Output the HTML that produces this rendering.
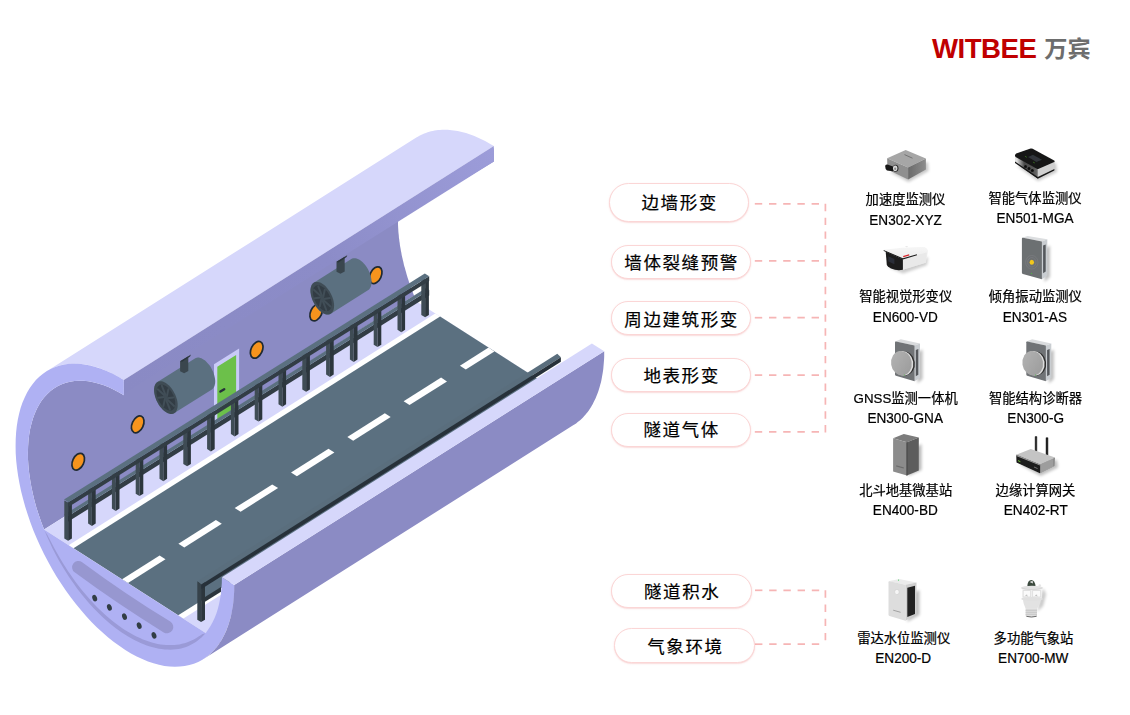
<!DOCTYPE html>
<html lang="zh-CN"><head><meta charset="utf-8"><title>WITBEE 万宾 隧道监测</title>
<style>
html,body{margin:0;padding:0;background:#fff}
body{width:1130px;height:715px;position:relative;overflow:hidden;font-family:"Liberation Sans","Noto Sans CJK SC",sans-serif;color:#000}
svg.bg{position:absolute;left:0;top:0}
.logo{position:absolute;left:932px;top:32.4px;height:34px;line-height:34px;white-space:nowrap}
.logo b{color:#c00000;font-size:27.6px;font-weight:700;letter-spacing:-0.5px;font-family:"Liberation Sans",sans-serif}
.logo span{color:#6d6d6d;font-size:23.2px;font-weight:700;margin-left:8.0px;font-family:"Liberation Sans","Noto Sans CJK SC",sans-serif;position:relative;top:-1.0px}
.pill{position:absolute;box-sizing:border-box;border:1.8px solid #fbd6d6;border-radius:20px;background:#fff;box-shadow:0 .8px 1.5px rgba(238,150,150,.42);text-align:center;font-size:17.5px;letter-spacing:1.6px;text-indent:1.6px;font-family:"Liberation Sans","Noto Sans CJK SC",sans-serif;font-weight:400;white-space:nowrap;-webkit-text-stroke:.2px #000}
.dev{position:absolute;width:140px;text-align:center;white-space:nowrap;-webkit-text-stroke:.22px #000}
.dev .n{font-size:13.3px;line-height:20px;height:20px;font-family:"Liberation Sans","Noto Sans CJK SC",sans-serif}
.dev .m{font-size:15.2px;line-height:20px;height:20px;font-family:"Liberation Sans",sans-serif}
.dev .m span{display:inline-block;transform:scaleX(.895);position:relative;top:-.6px}
</style></head><body>
<svg class="bg" width="1130" height="715" viewBox="0 0 1130 715">
<defs>
<linearGradient id="gStrip" gradientUnits="userSpaceOnUse" x1="495" y1="155" x2="125" y2="388">
<stop offset="0" stop-color="#9c9cd9"/><stop offset="0.45" stop-color="#8c8cc8"/><stop offset="1" stop-color="#8a8ac4"/></linearGradient>
<linearGradient id="gWall" gradientUnits="userSpaceOnUse" x1="0" y1="380" x2="0" y2="560">
<stop offset="0" stop-color="#8b8bc4"/><stop offset="1" stop-color="#8b8bc4"/></linearGradient>
</defs>
<g id="tunnel">
<path d="M46.3 371.4 L47.8 370.5 L49.4 369.6 L51.0 368.8 L52.6 368.1 L54.2 367.4 L55.9 366.7 L57.6 366.2 L59.3 365.6 L61.0 365.2 L62.8 364.8 L64.6 364.4 L66.4 364.2 L68.2 363.9 L70.1 363.8 L72.0 363.7 L73.9 363.6 L75.8 363.6 L77.7 363.7 L79.7 363.8 L81.7 364.0 L83.7 364.3 L85.7 364.6 L87.7 364.9 L89.8 365.4 L91.8 365.8 L93.9 366.4 L96.0 367.0 L98.1 367.6 L100.2 368.4 L102.3 369.1 L104.4 370.0 L106.5 370.9 L108.7 371.8 L110.8 372.8 L113.0 373.9 L115.1 375.0 L117.3 376.1 L119.4 377.4 L121.6 378.6 L123.8 380.0 L493.8 146.1 L491.6 144.8 L489.4 143.5 L487.3 142.3 L485.1 141.1 L483.0 140.0 L480.8 139.0 L478.7 138.0 L476.5 137.0 L474.4 136.1 L472.3 135.3 L470.2 134.5 L468.1 133.8 L466.0 133.1 L463.9 132.5 L461.8 132.0 L459.8 131.5 L457.7 131.1 L455.7 130.7 L453.7 130.4 L451.7 130.2 L449.7 130.0 L447.7 129.8 L445.8 129.8 L443.9 129.8 L442.0 129.8 L440.1 129.9 L438.2 130.1 L436.4 130.3 L434.6 130.6 L432.8 130.9 L431.0 131.3 L429.3 131.8 L427.6 132.3 L425.9 132.9 L424.2 133.5 L422.6 134.2 L421.0 135.0 L419.4 135.8 L417.8 136.7 L416.3 137.6Z" fill="#d6d7fb" />
<path d="M123.8 382.0 L123.9 395.3 L118.7 392.2 L113.5 389.4 L108.4 387.1 L103.2 385.1 L98.2 383.4 L93.2 382.2 L88.4 381.3 L83.6 380.8 L79.0 380.7 L74.4 381.0 L70.1 381.7 L65.9 382.8 L61.8 384.2 L58.0 386.1 L54.3 388.2 L50.8 390.8 L47.6 393.7 L44.5 397.0 L41.7 400.6 L39.2 404.5 L36.9 408.8 L34.8 413.4 L33.0 418.2 L31.5 423.4 L30.2 428.8 L29.2 434.4 L28.5 440.3 L28.1 446.4 L27.9 452.7 L28.0 459.2 L28.4 465.8 L29.1 472.6 L30.1 479.5 L31.3 486.5 L32.8 493.6 L34.5 500.7 L36.5 507.9 L38.8 515.1 L41.3 522.3 L44.1 529.5 L414.1 295.7 L413.3 293.7 L412.6 291.8 L411.8 289.8 L411.1 287.8 L410.4 285.9 L409.7 283.9 L409.0 281.9 L408.4 279.9 L407.7 278.0 L407.1 276.0 L406.5 274.0 L406.0 272.1 L405.4 270.1 L404.9 268.1 L404.3 266.2 L403.8 264.2 L403.4 262.3 L402.9 260.3 L402.5 258.4 L402.0 256.4 L401.6 254.5 L401.3 252.6 L400.9 250.7 L400.6 248.7 L400.2 246.8 L399.9 244.9 L399.7 243.0 L399.4 241.2 L399.2 239.3 L398.9 237.4 L398.8 235.6 L398.6 233.7 L398.4 231.9 L398.3 230.0 L398.2 228.2 L398.1 226.4 L398.0 224.6 L398.0 222.8 L397.9 221.1 L397.9 219.3 L493.9 161.4 L493.8 148.1Z" fill="url(#gWall)" />
<path d="M123.8 380.0 L493.8 146.1 L493.9 161.4 L123.9 394.1Z" fill="url(#gStrip)" />
<path d="M44.1 529.5 L205.7 632.9 L572.3 401.2 L410.7 297.8Z" fill="#d6d7fb" />
<path d="M68.6 545.2 L183.4 618.6 L550.0 386.9 L435.2 313.5Z" fill="#ffffff" />
<path d="M73.5 548.3 L178.2 615.3 L544.8 383.6 L440.1 316.6Z" fill="#5b7080" />
<path d="M459.9 365.7 L465.8 369.5 L494.4 351.4 L488.6 347.6Z" fill="#ffffff" />
<path d="M403.6 401.3 L409.5 405.1 L447.0 381.4 L441.1 377.6Z" fill="#ffffff" />
<path d="M347.3 436.9 L353.2 440.7 L390.7 417.0 L384.8 413.2Z" fill="#ffffff" />
<path d="M291.0 472.5 L296.9 476.2 L334.4 452.5 L328.5 448.8Z" fill="#ffffff" />
<path d="M234.7 508.1 L240.6 511.8 L278.1 488.1 L272.2 484.4Z" fill="#ffffff" />
<path d="M178.4 543.7 L184.3 547.4 L221.8 523.7 L215.9 520.0Z" fill="#ffffff" />
<path d="M122.1 579.2 L128.0 583.0 L165.5 559.3 L159.6 555.5Z" fill="#ffffff" />
<path d="M123.8 380.0 L118.0 376.6 L112.4 373.6 L106.7 370.9 L101.1 368.7 L95.6 366.9 L90.1 365.4 L84.7 364.4 L79.5 363.8 L74.3 363.6 L69.3 363.8 L64.5 364.4 L59.8 365.5 L55.3 366.9 L51.0 368.8 L46.9 371.0 L43.0 373.7 L39.3 376.7 L35.9 380.1 L32.7 383.9 L29.8 388.0 L27.1 392.5 L24.7 397.4 L22.5 402.5 L20.6 407.9 L19.1 413.7 L17.8 419.7 L16.8 426.0 L16.1 432.5 L15.7 439.2 L15.6 446.2 L15.7 453.3 L16.2 460.7 L17.0 468.1 L18.1 475.7 L19.5 483.4 L21.1 491.2 L23.1 499.0 L25.3 506.9 L27.8 514.8 L30.5 522.8 L33.5 530.7 L36.8 538.5 L40.3 546.3 L44.0 554.0 L48.0 561.6 L52.1 569.1 L56.5 576.4 L61.1 583.6 L65.8 590.5 L70.7 597.3 L75.7 603.8 L80.9 610.1 L86.2 616.2 L91.5 622.0 L97.0 627.4 L102.6 632.6 L108.2 637.4 L113.9 642.0 L119.6 646.1 L125.3 649.9 L131.0 653.4 L136.7 656.5 L142.3 659.1 L148.0 661.4 L153.5 663.3 L159.0 664.8 L164.4 665.9 L169.6 666.5 L174.8 666.8 L179.8 666.6 L184.7 666.1 L189.4 665.1 L193.9 663.7 L198.2 661.9 L202.4 659.7 L206.3 657.1 L210.0 654.1 L213.5 650.7 L216.7 647.0 L219.7 642.9 L222.4 638.5 L224.8 633.7 L227.0 628.6 L228.9 623.2 L230.5 617.5 L231.9 611.5 L232.9 605.3 L233.7 598.8 L234.1 592.1 L234.2 585.1 L221.9 577.2 L221.8 583.0 L221.4 588.6 L220.9 594.0 L220.0 599.2 L219.0 604.2 L217.8 609.1 L216.3 613.7 L214.6 618.0 L212.7 622.1 L210.5 626.0 L208.2 629.6 L205.7 632.9 L44.1 529.5 L44.1 529.5 L41.3 522.3 L38.8 515.1 L36.5 507.9 L34.5 500.7 L32.8 493.6 L31.3 486.5 L30.1 479.5 L29.1 472.6 L28.4 465.8 L28.0 459.2 L27.9 452.7 L28.1 446.4 L28.5 440.3 L29.2 434.4 L30.2 428.8 L31.5 423.4 L33.0 418.2 L34.8 413.4 L36.9 408.8 L39.2 404.5 L41.7 400.6 L44.5 397.0 L47.6 393.7 L50.8 390.8 L54.3 388.2 L58.0 386.1 L61.8 384.2 L65.9 382.8 L70.1 381.7 L74.4 381.0 L79.0 380.7 L83.6 380.8 L88.4 381.3 L93.2 382.2 L98.2 383.4 L103.2 385.1 L108.4 387.1 L113.5 389.4 L118.7 392.2 L123.9 395.3Z" fill="#afb1f3" />
<path d="M44.6 530.7 L46.4 535.0 L48.3 539.3 L50.3 543.6 L52.3 547.9 L54.4 552.1 L56.6 556.3 L58.9 560.4 L61.3 564.5 L63.7 568.6 L66.2 572.6 L68.7 576.5 L71.3 580.3 L74.0 584.1 L76.7 587.9 L79.4 591.5 L82.2 595.1 L85.1 598.5 L88.0 601.9 L90.9 605.2 L93.9 608.4 L96.9 611.5 L99.9 614.5 L103.0 617.4 L106.1 620.2 L109.2 622.9 L112.3 625.4 L115.5 627.9 L118.6 630.2 L121.7 632.4 L124.9 634.5 L128.1 636.5 L131.2 638.3 L134.3 640.0 L137.5 641.5 L140.6 643.0 L143.7 644.3 L146.8 645.4 L149.9 646.4 L152.9 647.3 L155.9 648.1 L158.9 648.7 L161.8 649.1 L164.7 649.4 L167.6 649.6 L170.4 649.7 L173.1 649.6 L175.8 649.3 L178.5 648.9 L181.1 648.4 L183.6 647.7 L186.1 646.9 L188.5 645.9 L190.9 644.8 L193.2 643.6 L195.4 642.2 L197.5 640.7 L199.5 639.1 L201.5 637.4 L203.4 635.5 L205.2 633.4 L205.2 633.4 L202.5 634.0 L200.3 635.4 L198.2 636.8 L196.0 638.2 L193.8 639.4 L191.5 640.5 L189.2 641.5 L186.8 642.4 L184.4 643.2 L181.9 643.8 L179.4 644.4 L176.8 644.7 L174.2 645.0 L171.5 645.1 L168.8 645.1 L166.1 645.0 L163.3 644.8 L160.5 644.4 L157.6 643.9 L154.8 643.2 L151.9 642.5 L148.9 641.6 L146.0 640.5 L143.0 639.4 L140.0 638.1 L137.0 636.7 L134.0 635.2 L131.0 633.5 L127.9 631.8 L124.9 629.9 L121.9 627.9 L118.8 625.8 L115.8 623.6 L112.8 621.2 L109.8 618.8 L106.8 616.2 L103.8 613.6 L100.9 610.8 L97.9 608.0 L95.0 605.0 L92.2 602.0 L89.3 598.8 L86.5 595.6 L83.7 592.3 L81.0 588.9 L78.3 585.5 L75.6 581.9 L73.0 578.3 L70.4 574.6 L67.9 570.9 L65.4 567.1 L63.0 563.2 L60.6 559.3 L58.3 555.3 L56.0 551.3 L53.8 547.2 L51.6 543.1 L49.5 539.0 L47.3 534.8 L44.6 530.7Z" fill="#9a9ad7" />
<path d="M78.4 567.3 Q121.5 599.2 167.0 627.0" fill="none" stroke="#9797d0" stroke-width="12.6" stroke-linecap="round"/>
<ellipse cx="94.7" cy="598.1" rx="2.3" ry="3.4" fill="#323d45" transform="rotate(-20 94.7 598.1)"/>
<ellipse cx="109.4" cy="607.4" rx="2.3" ry="3.4" fill="#323d45" transform="rotate(-20 109.4 607.4)"/>
<ellipse cx="124.5" cy="616.6" rx="2.3" ry="3.4" fill="#323d45" transform="rotate(-20 124.5 616.6)"/>
<ellipse cx="139.2" cy="625.6" rx="2.3" ry="3.4" fill="#323d45" transform="rotate(-20 139.2 625.6)"/>
<ellipse cx="154.0" cy="635.4" rx="2.3" ry="3.4" fill="#323d45" transform="rotate(-20 154.0 635.4)"/>
<path d="M234.2 585.1 L234.2 587.7 L234.2 590.3 L234.1 592.8 L233.9 595.3 L233.7 597.7 L233.5 600.2 L233.3 602.5 L233.0 604.9 L232.6 607.2 L232.2 609.5 L231.8 611.8 L231.4 614.0 L230.9 616.2 L230.3 618.4 L229.7 620.5 L229.1 622.6 L228.5 624.6 L227.8 626.6 L227.0 628.6 L226.3 630.5 L225.5 632.3 L224.6 634.2 L223.7 636.0 L222.8 637.7 L221.9 639.4 L220.9 641.0 L219.9 642.6 L218.8 644.2 L217.7 645.7 L216.6 647.2 L215.4 648.6 L214.2 649.9 L213.0 651.2 L211.7 652.5 L210.4 653.7 L209.1 654.9 L207.7 656.0 L206.4 657.0 L204.9 658.0 L203.5 659.0 L573.5 425.1 L574.9 424.2 L576.4 423.2 L577.7 422.1 L579.1 421.0 L580.4 419.9 L581.7 418.7 L583.0 417.4 L584.2 416.1 L585.4 414.7 L586.6 413.3 L587.7 411.9 L588.8 410.4 L589.9 408.8 L590.9 407.2 L591.9 405.5 L592.8 403.9 L593.7 402.1 L594.6 400.3 L595.5 398.5 L596.3 396.6 L597.0 394.7 L597.8 392.8 L598.5 390.8 L599.1 388.7 L599.7 386.7 L600.3 384.5 L600.9 382.4 L601.4 380.2 L601.8 378.0 L602.2 375.7 L602.6 373.4 L603.0 371.1 L603.3 368.7 L603.5 366.3 L603.7 363.9 L603.9 361.4 L604.1 358.9 L604.2 356.4 L604.2 353.9 L604.2 351.3Z" fill="#8b8bc4" />
<path d="M221.9 577.2 L234.2 585.1 L604.2 351.3 L591.9 343.4Z" fill="#d6d7fb" />
<path d="M197.3 581.2 L201.1 583.4 L201.1 622.0 L197.3 619.8Z" fill="#36424a" />
<path d="M201.1 583.4 L205.0 581.2 L205.0 619.8 L201.1 622.0Z" fill="#2c363d" />
<path d="M205.0 597.0 L221.0 587.0 L221.0 591.8 L205.0 601.8Z" fill="#2c363d" />
<path d="M197.8 581.0 L557.3 353.8 L560.9 357.2 L201.4 584.4Z" fill="#5a6e7d" />
<path d="M201.4 584.4 L560.9 357.2 L560.9 361.8 L201.4 589.0Z" fill="#27313a" />
<ellipse cx="78.2" cy="461.7" rx="5.6" ry="8.9" fill="#f7941d" stroke="#1f2a33" stroke-width="1.7" transform="rotate(25 78.2 461.7)"/>
<ellipse cx="137.7" cy="424.4" rx="5.6" ry="8.9" fill="#f7941d" stroke="#1f2a33" stroke-width="1.7" transform="rotate(25 137.7 424.4)"/>
<ellipse cx="256.7" cy="349.8" rx="5.6" ry="8.9" fill="#f7941d" stroke="#1f2a33" stroke-width="1.7" transform="rotate(25 256.7 349.8)"/>
<ellipse cx="316.2" cy="312.5" rx="5.6" ry="8.9" fill="#f7941d" stroke="#1f2a33" stroke-width="1.7" transform="rotate(25 316.2 312.5)"/>
<ellipse cx="375.7" cy="275.2" rx="5.6" ry="8.9" fill="#f7941d" stroke="#1f2a33" stroke-width="1.7" transform="rotate(25 375.7 275.2)"/>
<path d="M214.0 364.3 L239.1 348.5 L239.1 405.0 L214.0 421.0Z" fill="#c9caf8" />
<path d="M217.3 366.8 L236.1 355.0 L236.1 407.5 L217.3 419.5Z" fill="#6cc04a" />
<path d="M220.4 391.6 L224.2 389.2" stroke="#27313a" stroke-width="2.4" stroke-linecap="round"/>
<path d="M157.4 382.1 L156.6 382.7 L155.9 383.5 L155.3 384.5 L154.8 385.5 L154.5 386.8 L154.2 388.1 L154.1 389.5 L154.1 391.1 L154.3 392.7 L154.6 394.3 L155.0 396.0 L155.5 397.7 L156.1 399.4 L156.9 401.1 L157.7 402.8 L158.6 404.4 L159.6 405.9 L160.7 407.3 L161.9 408.6 L163.0 409.8 L164.2 410.9 L165.5 411.8 L166.7 412.6 L167.9 413.2 L169.1 413.6 L170.3 413.9 L171.4 413.9 L172.5 413.8 L173.5 413.6 L174.4 413.1 L211.9 389.4 L212.7 388.8 L213.4 388.0 L214.0 387.0 L214.5 386.0 L214.8 384.7 L215.1 383.4 L215.2 382.0 L215.2 380.4 L215.0 378.8 L214.7 377.2 L214.3 375.5 L213.8 373.8 L213.2 372.1 L212.4 370.4 L211.6 368.7 L210.7 367.1 L209.7 365.6 L208.6 364.2 L207.4 362.9 L206.3 361.7 L205.1 360.6 L203.8 359.7 L202.6 358.9 L201.4 358.3 L200.2 357.9 L199.0 357.6 L197.9 357.6 L196.8 357.7 L195.8 357.9 L194.9 358.4Z" fill="#5b7080" />
<path d="M180.1 361.2 L188.3 356.2 L188.3 370.9 L184.1 373.2 L180.1 371.2Z" fill="#3a464e" />
<path d="M180.1 361.2 L188.3 356.2 L190.9 354.6 L190.1 356.4 L182.1 361.8Z" fill="#2b353c" />
<path d="M177.7 405.1 L177.6 403.2 L177.3 401.1 L176.8 399.0 L176.1 396.9 L175.3 394.8 L174.2 392.7 L173.1 390.7 L171.8 388.8 L170.4 387.1 L169.0 385.5 L167.4 384.2 L165.9 383.1 L164.4 382.2 L162.8 381.6 L161.4 381.3 L160.0 381.3 L158.7 381.5 L157.6 382.0 L156.5 382.8 L155.7 383.8 L155.0 385.1 L154.5 386.6 L154.2 388.2 L154.1 390.1 L154.2 392.0 L154.5 394.1 L155.0 396.2 L155.7 398.3 L156.5 400.4 L157.6 402.5 L158.7 404.5 L160.0 406.4 L161.4 408.1 L162.8 409.7 L164.4 411.0 L165.9 412.1 L167.4 413.0 L169.0 413.6 L170.4 413.9 L171.8 413.9 L173.1 413.7 L174.2 413.2 L175.3 412.4 L176.1 411.4 L176.8 410.1 L177.3 408.6 L177.6 407.0Z" fill="#3f4c55" />
<path d="M175.2 403.6 L175.2 402.0 L174.9 400.4 L174.5 398.7 L174.0 397.0 L173.3 395.3 L172.5 393.7 L171.6 392.1 L170.6 390.6 L169.5 389.3 L168.3 388.0 L167.1 387.0 L165.9 386.1 L164.7 385.4 L163.5 384.9 L162.3 384.7 L161.2 384.7 L160.2 384.8 L159.3 385.2 L158.5 385.9 L157.8 386.7 L157.3 387.7 L156.9 388.8 L156.6 390.2 L156.6 391.6 L156.6 393.2 L156.9 394.8 L157.3 396.5 L157.8 398.2 L158.5 399.9 L159.3 401.5 L160.2 403.1 L161.2 404.6 L162.3 405.9 L163.5 407.2 L164.7 408.2 L165.9 409.1 L167.1 409.8 L168.3 410.3 L169.5 410.5 L170.6 410.5 L171.6 410.4 L172.5 410.0 L173.3 409.3 L174.0 408.5 L174.5 407.5 L174.9 406.4 L175.2 405.0Z" fill="#323c44" />
<path d="M167.5 398.3 L173.4 397.5" stroke="#414e57" stroke-width="2.0" stroke-linecap="round"/>
<path d="M166.8 396.6 L168.4 389.2" stroke="#414e57" stroke-width="2.0" stroke-linecap="round"/>
<path d="M165.6 395.4 L161.9 385.8" stroke="#414e57" stroke-width="2.0" stroke-linecap="round"/>
<path d="M164.6 395.6 L157.7 389.3" stroke="#414e57" stroke-width="2.0" stroke-linecap="round"/>
<path d="M164.3 396.9 L158.4 397.7" stroke="#414e57" stroke-width="2.0" stroke-linecap="round"/>
<path d="M165.0 398.6 L163.4 406.0" stroke="#414e57" stroke-width="2.0" stroke-linecap="round"/>
<path d="M166.2 399.8 L169.9 409.4" stroke="#414e57" stroke-width="2.0" stroke-linecap="round"/>
<path d="M167.2 399.6 L174.1 405.9" stroke="#414e57" stroke-width="2.0" stroke-linecap="round"/>
<path d="M167.7 398.7 L167.6 397.8 L167.2 396.9 L166.6 396.0 L165.9 395.4 L165.2 395.1 L164.6 395.2 L164.2 395.7 L164.1 396.5 L164.2 397.4 L164.6 398.3 L165.2 399.2 L165.9 399.8 L166.6 400.1 L167.2 400.0 L167.6 399.5Z" fill="#3f4c55" />
<path d="M313.8 282.7 L313.0 283.3 L312.3 284.1 L311.7 285.1 L311.2 286.1 L310.9 287.4 L310.6 288.7 L310.5 290.1 L310.5 291.7 L310.7 293.3 L311.0 294.9 L311.4 296.6 L311.9 298.3 L312.5 300.0 L313.3 301.7 L314.1 303.4 L315.0 305.0 L316.0 306.5 L317.1 307.9 L318.3 309.2 L319.4 310.4 L320.6 311.5 L321.9 312.4 L323.1 313.2 L324.3 313.8 L325.5 314.2 L326.7 314.5 L327.8 314.5 L328.9 314.4 L329.9 314.2 L330.8 313.7 L368.3 290.0 L369.1 289.4 L369.8 288.6 L370.4 287.6 L370.9 286.6 L371.2 285.3 L371.5 284.0 L371.6 282.6 L371.6 281.0 L371.4 279.4 L371.1 277.8 L370.7 276.1 L370.2 274.4 L369.6 272.7 L368.8 271.0 L368.0 269.3 L367.1 267.7 L366.1 266.2 L365.0 264.8 L363.8 263.5 L362.7 262.3 L361.5 261.2 L360.2 260.3 L359.0 259.5 L357.8 258.9 L356.6 258.5 L355.4 258.2 L354.3 258.2 L353.2 258.3 L352.2 258.5 L351.3 259.0Z" fill="#5b7080" />
<path d="M336.5 261.8 L344.7 256.8 L344.7 271.5 L340.5 273.8 L336.5 271.8Z" fill="#3a464e" />
<path d="M336.5 261.8 L344.7 256.8 L347.3 255.2 L346.5 257.0 L338.5 262.4Z" fill="#2b353c" />
<path d="M334.1 305.7 L334.0 303.8 L333.7 301.7 L333.2 299.6 L332.5 297.5 L331.7 295.4 L330.6 293.3 L329.5 291.3 L328.2 289.4 L326.8 287.7 L325.4 286.1 L323.8 284.8 L322.3 283.7 L320.8 282.8 L319.2 282.2 L317.8 281.9 L316.4 281.9 L315.1 282.1 L314.0 282.6 L312.9 283.4 L312.1 284.4 L311.4 285.7 L310.9 287.2 L310.6 288.8 L310.5 290.7 L310.6 292.6 L310.9 294.7 L311.4 296.8 L312.1 298.9 L312.9 301.0 L314.0 303.1 L315.1 305.1 L316.4 307.0 L317.8 308.7 L319.2 310.3 L320.8 311.6 L322.3 312.7 L323.8 313.6 L325.4 314.2 L326.8 314.5 L328.2 314.5 L329.5 314.3 L330.6 313.8 L331.7 313.0 L332.5 312.0 L333.2 310.7 L333.7 309.2 L334.0 307.6Z" fill="#3f4c55" />
<path d="M331.6 304.2 L331.6 302.6 L331.3 301.0 L330.9 299.3 L330.4 297.6 L329.7 295.9 L328.9 294.3 L328.0 292.7 L327.0 291.2 L325.9 289.9 L324.7 288.6 L323.5 287.6 L322.3 286.7 L321.1 286.0 L319.9 285.5 L318.7 285.3 L317.6 285.3 L316.6 285.4 L315.7 285.8 L314.9 286.5 L314.2 287.3 L313.7 288.3 L313.3 289.4 L313.0 290.8 L313.0 292.2 L313.0 293.8 L313.3 295.4 L313.7 297.1 L314.2 298.8 L314.9 300.5 L315.7 302.1 L316.6 303.7 L317.6 305.2 L318.7 306.5 L319.9 307.8 L321.1 308.8 L322.3 309.7 L323.5 310.4 L324.7 310.9 L325.9 311.1 L327.0 311.1 L328.0 311.0 L328.9 310.6 L329.7 309.9 L330.4 309.1 L330.9 308.1 L331.3 307.0 L331.6 305.6Z" fill="#323c44" />
<path d="M323.9 298.9 L329.8 298.1" stroke="#414e57" stroke-width="2.0" stroke-linecap="round"/>
<path d="M323.2 297.2 L324.8 289.8" stroke="#414e57" stroke-width="2.0" stroke-linecap="round"/>
<path d="M322.0 296.0 L318.3 286.4" stroke="#414e57" stroke-width="2.0" stroke-linecap="round"/>
<path d="M321.0 296.2 L314.1 289.9" stroke="#414e57" stroke-width="2.0" stroke-linecap="round"/>
<path d="M320.7 297.5 L314.8 298.3" stroke="#414e57" stroke-width="2.0" stroke-linecap="round"/>
<path d="M321.4 299.2 L319.8 306.6" stroke="#414e57" stroke-width="2.0" stroke-linecap="round"/>
<path d="M322.6 300.4 L326.3 310.0" stroke="#414e57" stroke-width="2.0" stroke-linecap="round"/>
<path d="M323.6 300.2 L330.5 306.5" stroke="#414e57" stroke-width="2.0" stroke-linecap="round"/>
<path d="M324.1 299.3 L324.0 298.4 L323.6 297.5 L323.0 296.6 L322.3 296.0 L321.6 295.7 L321.0 295.8 L320.6 296.3 L320.5 297.1 L320.6 298.0 L321.0 298.9 L321.6 299.8 L322.3 300.4 L323.0 300.7 L323.6 300.6 L324.0 300.1Z" fill="#3f4c55" />
<path d="M67.1 516.7 L429.2 290.0 L429.2 295.6 L67.1 522.3Z" fill="#323d45" />
<path d="M64.0 514.8 L426.1 288.1 L429.2 290.0 L67.1 516.7Z" fill="#5b7080" />
<path d="M64.3 500.6 L68.1 502.6 L68.1 540.8 L64.3 538.4Z" fill="#3f4c55" />
<path d="M68.1 502.6 L71.9 500.4 L71.9 538.4 L68.1 540.8Z" fill="#2c363d" />
<path d="M88.1 485.7 L91.9 487.7 L91.9 525.9 L88.1 523.5Z" fill="#3f4c55" />
<path d="M91.9 487.7 L95.7 485.5 L95.7 523.5 L91.9 525.9Z" fill="#2c363d" />
<path d="M111.9 470.8 L115.7 472.8 L115.7 511.0 L111.9 508.6Z" fill="#3f4c55" />
<path d="M115.7 472.8 L119.5 470.6 L119.5 508.6 L115.7 511.0Z" fill="#2c363d" />
<path d="M135.7 455.9 L139.5 457.9 L139.5 496.1 L135.7 493.7Z" fill="#3f4c55" />
<path d="M139.5 457.9 L143.3 455.7 L143.3 493.7 L139.5 496.1Z" fill="#2c363d" />
<path d="M159.5 441.0 L163.3 443.0 L163.3 481.2 L159.5 478.8Z" fill="#3f4c55" />
<path d="M163.3 443.0 L167.1 440.8 L167.1 478.8 L163.3 481.2Z" fill="#2c363d" />
<path d="M183.3 426.1 L187.1 428.1 L187.1 466.3 L183.3 463.9Z" fill="#3f4c55" />
<path d="M187.1 428.1 L190.9 425.9 L190.9 463.9 L187.1 466.3Z" fill="#2c363d" />
<path d="M207.1 411.2 L210.9 413.2 L210.9 451.4 L207.1 449.0Z" fill="#3f4c55" />
<path d="M210.9 413.2 L214.7 411.0 L214.7 449.0 L210.9 451.4Z" fill="#2c363d" />
<path d="M230.9 396.3 L234.7 398.3 L234.7 436.5 L230.9 434.1Z" fill="#3f4c55" />
<path d="M234.7 398.3 L238.5 396.1 L238.5 434.1 L234.7 436.5Z" fill="#2c363d" />
<path d="M254.7 381.4 L258.5 383.4 L258.5 421.6 L254.7 419.2Z" fill="#3f4c55" />
<path d="M258.5 383.4 L262.3 381.2 L262.3 419.2 L258.5 421.6Z" fill="#2c363d" />
<path d="M278.5 366.5 L282.3 368.5 L282.3 406.7 L278.5 404.3Z" fill="#3f4c55" />
<path d="M282.3 368.5 L286.1 366.3 L286.1 404.3 L282.3 406.7Z" fill="#2c363d" />
<path d="M302.3 351.6 L306.1 353.6 L306.1 391.8 L302.3 389.4Z" fill="#3f4c55" />
<path d="M306.1 353.6 L309.9 351.4 L309.9 389.4 L306.1 391.8Z" fill="#2c363d" />
<path d="M326.1 336.7 L329.9 338.7 L329.9 376.9 L326.1 374.5Z" fill="#3f4c55" />
<path d="M329.9 338.7 L333.7 336.5 L333.7 374.5 L329.9 376.9Z" fill="#2c363d" />
<path d="M349.9 321.8 L353.7 323.8 L353.7 362.0 L349.9 359.6Z" fill="#3f4c55" />
<path d="M353.7 323.8 L357.5 321.6 L357.5 359.6 L353.7 362.0Z" fill="#2c363d" />
<path d="M373.7 306.9 L377.5 308.9 L377.5 347.1 L373.7 344.7Z" fill="#3f4c55" />
<path d="M377.5 308.9 L381.3 306.7 L381.3 344.7 L377.5 347.1Z" fill="#2c363d" />
<path d="M397.5 292.0 L401.3 294.0 L401.3 332.2 L397.5 329.8Z" fill="#3f4c55" />
<path d="M401.3 294.0 L405.1 291.8 L405.1 329.8 L401.3 332.2Z" fill="#2c363d" />
<path d="M421.3 277.1 L425.1 279.1 L425.1 317.3 L421.3 314.9Z" fill="#3f4c55" />
<path d="M425.1 279.1 L428.9 276.9 L428.9 314.9 L425.1 317.3Z" fill="#2c363d" />
<path d="M68.4 502.2 L429.2 276.3 L429.2 281.0 L68.4 506.9Z" fill="#323d45" />
<path d="M64.0 499.4 L424.8 273.5 L429.2 276.3 L68.4 502.2Z" fill="#5b7080" />
</g>
<g id="connectors">
<path d="M754.8 203.8 L825.4 203.8" stroke="#f6b5b5" stroke-width="1.7" stroke-dasharray="7.4 6.8" fill="none"/>
<path d="M754.8 260.9 L825.4 260.9" stroke="#f6b5b5" stroke-width="1.7" stroke-dasharray="7.4 6.8" fill="none"/>
<path d="M754.8 317.7 L825.4 317.7" stroke="#f6b5b5" stroke-width="1.7" stroke-dasharray="7.4 6.8" fill="none"/>
<path d="M754.8 375.1 L825.4 375.1" stroke="#f6b5b5" stroke-width="1.7" stroke-dasharray="7.4 6.8" fill="none"/>
<path d="M754.8 431.9 L825.4 431.9" stroke="#f6b5b5" stroke-width="1.7" stroke-dasharray="7.4 6.8" fill="none"/>
<path d="M825.4 203.8 L825.4 432.6" stroke="#f6b5b5" stroke-width="1.7" stroke-dasharray="7.4 6.43" fill="none"/>
<path d="M755.0 590.3 L825.4 590.3" stroke="#f6b5b5" stroke-width="1.7" stroke-dasharray="7.4 6.8" fill="none"/>
<path d="M755.0 644.2 L825.4 644.2" stroke="#f6b5b5" stroke-width="1.7" stroke-dasharray="7.4 6.8" fill="none"/>
<path d="M825.4 590.3 L825.4 644.2" stroke="#f6b5b5" stroke-width="1.7" stroke-dasharray="7.4 6.8" fill="none"/>
</g>
<defs>
<filter id="sh" x="-150%" y="-50%" width="400%" height="200%"><feGaussianBlur stdDeviation="1.6"/></filter>
<filter id="soft" x="-10%" y="-10%" width="120%" height="120%"><feGaussianBlur stdDeviation="0.35"/></filter>
<linearGradient id="gSil" x1="0" y1="0" x2="1" y2="0"><stop offset="0" stop-color="#e4e4e4"/><stop offset="1" stop-color="#9a9a9a"/></linearGradient>
<linearGradient id="gSil2" x1="0" y1="0" x2="1" y2="0"><stop offset="0" stop-color="#6a6a6a"/><stop offset="1" stop-color="#8d8d8d"/></linearGradient>
<linearGradient id="gCam" x1="0" y1="0" x2="0" y2="1"><stop offset="0" stop-color="#f6f6f6"/><stop offset="1" stop-color="#e4e4e4"/></linearGradient>
<linearGradient id="gDisk" x1="0" y1="0" x2="1" y2="1"><stop offset="0" stop-color="#b4b4b4"/><stop offset="1" stop-color="#9a9a9a"/></linearGradient>
<linearGradient id="gGasDark" gradientUnits="userSpaceOnUse" x1="1017" y1="0" x2="1038" y2="0"><stop offset="0" stop-color="#2b2b2b" stop-opacity="0"/><stop offset="0.35" stop-color="#2b2b2b" stop-opacity=".8"/><stop offset="0.8" stop-color="#3a3a3a" stop-opacity=".75"/><stop offset="1" stop-color="#555" stop-opacity=".6"/></linearGradient>
<g id="boxdev">
  <path d="M22 11 L27.6 8 L27.6 37.5 L22.5 42 Z" fill="#000" opacity=".25" filter="url(#sh)"/>
  <path d="M0 0 L5.8 -2.3 L25 1.9 L19.6 3.9 Z" fill="#d9dbdd"/>
  <path d="M19.6 3.9 L25 1.9 L25 36.2 L19.6 39.7 Z" fill="#c9cdd1"/>
  <path d="M20.8 8.5 L23.3 7.4 L23.3 33.2 L20.8 34.8 Z" fill="#55585c"/>
  <path d="M0.9 0 L19.6 3.9 L19.6 39.7 L0.9 34.2 Q0 33.9 0 33 L0 0.8 Q0 -0.1 0.9 0 Z" fill="#707376"/>
</g>
</defs>
<g id="icons" filter="url(#soft)">
<!-- 1 accelerometer -->
<g>
  <path d="M890 172 L908.5 182 L928.5 171 L928 162 Z" fill="#000" opacity=".22" filter="url(#sh)"/>
  <path d="M887.1 158.2 L905.7 150.1 L925.9 158.5 L908.1 167.6 Z" fill="#a6a6a6"/>
  <path d="M887.1 158.2 L908.1 167.6 L908.1 179.5 L887.5 169.4 Z" fill="#8f8f8f"/>
  <path d="M908.1 167.6 L925.9 158.5 L925.9 169.4 L908.1 179.5 Z" fill="url(#gSil2)"/>
  <path d="M904.5 154.6 L912.5 158.2" stroke="#6d6d6d" stroke-width="0.9"/>
  <path d="M885.2 166.2 Q885 164.3 887.5 164.6 L893 166.5 L893 171.2 L887 170.4 Q885.2 169.5 885.2 166.2 Z" fill="#161616"/>
  <ellipse cx="895.6" cy="168.3" rx="2.9" ry="3.5" fill="#2a2a2a"/>
  <ellipse cx="895.2" cy="168.3" rx="2.2" ry="2.8" fill="#d8d8d8"/>
  <ellipse cx="895.2" cy="168.8" rx="1.0" ry="1.3" fill="#8a8a8a"/>
</g>
<!-- 2 gas monitor -->
<g>
  <path d="M1017 166 L1038 181 L1057 172 L1056 163 Z" fill="#000" opacity=".22" filter="url(#sh)"/>
  <path d="M1015 156 L1037.8 168.6 L1037.8 178.4 L1015 162.6 Z" fill="url(#gSil)"/>
  <path d="M1015 156 L1037.8 168.6 L1037.8 178.4 L1015 162.6 Z" fill="url(#gGasDark)"/>
  <path d="M1037.8 168.6 L1054.9 161.2 L1054.3 170.3 L1037.8 178.4 Z" fill="#d0d0d0"/>
  <path d="M1015 161.4 L1037.8 177 L1054.4 169 L1054.3 170.6 L1037.8 178.8 L1015 162.9 Z" fill="#141414"/>
  <path d="M1016.2 153.6 L1030.6 148.6 Q1031.6 148.3 1032.6 148.8 L1054.2 160.6 Q1055.3 161.4 1054.2 162 L1038.8 168.8 Q1037.8 169.2 1036.8 168.7 L1015.6 157 Q1014 155.4 1016.2 153.6 Z" fill="#161616"/>
  <path d="M1028 156.9 L1032.9 154.8 L1042 159.7 L1036.4 162.1 Z" fill="#30363b"/>
  <path d="M1025.3 156.4 L1026.6 157.2" stroke="#4a9a2a" stroke-width="0.8"/>
  <path d="M1033.3 162.2 L1034.6 162.9" stroke="#4a9a2a" stroke-width="0.8"/>
  <circle cx="1025.5" cy="166.4" r="1.5" fill="#111"/><circle cx="1029" cy="168.5" r="1.5" fill="#111"/><circle cx="1032.3" cy="170.6" r="1.5" fill="#111"/>
</g>
<!-- 3 camera -->
<g>
  <path d="M888 267 L903 273.5 L927 265 L928 257 Z" fill="#000" opacity=".2" filter="url(#sh)"/>
  <path d="M884 249.8 Q905 246.5 924.5 247 Q927.6 248 928 250.9 L925.9 262.8 L902.9 269.8 L902.9 258.6 Z" fill="url(#gCam)"/>
  <path d="M902.9 258.6 L926.8 252.5 L925.9 262.8 L902.9 269.8 Z" fill="#e9e9e9"/>
  <path d="M883.6 249.9 L902.9 258.2 L916.9 254.2 L917 255.2 L902.9 259.6 L883.8 251 Z" fill="#1a1a1a"/>
  <path d="M885.7 251.6 L902.9 259.2 L902.9 269.8 Q896.5 271 891 268.4 Q887.5 266.5 886.8 264.9 Z" fill="#1b1b1b"/>
  <path d="M888.3 256.2 L894.4 258.9 L894.4 264.3 L888.3 261.6 Z" fill="#2b2f38"/>
  <path d="M903.2 256.6 L909.2 254.9" stroke="#d8242a" stroke-width="1.1"/>
  <ellipse cx="906.6" cy="246.6" rx="1.4" ry="0.7" fill="#e8e8e8"/>
</g>
<!-- 4 tilt sensor -->
<g>
  <path d="M1044 249 L1050 245.5 L1050 277 L1044.5 282 Z" fill="#000" opacity=".25" filter="url(#sh)"/>
  <path d="M1021.9 237.7 L1027.7 236.1 L1047.3 239.2 L1041.9 241.5 Z" fill="#dcdee0"/>
  <path d="M1041.9 241.5 L1047.3 239.2 L1047.3 275.4 L1041.9 279.2 Z" fill="#c9cdd1"/>
  <path d="M1043.1 245.6 L1045.7 244.5 L1045.7 271.6 L1043.1 273.3 Z" fill="#55585c"/>
  <path d="M1022.9 237.8 L1041.9 241.5 L1041.9 279.2 L1022.9 274.1 Q1021.9 273.8 1021.9 272.8 L1021.9 238.7 Q1021.9 237.6 1022.9 237.8 Z" fill="#6c6f72"/>
  <ellipse cx="1031.8" cy="262.3" rx="6.2" ry="6.8" fill="none" stroke="#7b7e81" stroke-width="0.7"/>
  <ellipse cx="1031.8" cy="262.3" rx="4.2" ry="4.7" fill="none" stroke="#7b7e81" stroke-width="0.7"/>
  <ellipse cx="1031.8" cy="262.3" rx="2.2" ry="2.5" fill="#f2c81c"/>
  <circle cx="1031.5" cy="273.5" r="0.6" fill="#49c43c"/>
</g>
<!-- 5 GNSS -->
<g>
  <use href="#boxdev" x="895" y="341.5"/>
  <ellipse cx="904.6" cy="363.3" rx="10.2" ry="12.2" fill="#2e2e2e" transform="rotate(-8 904.6 363.3)"/>
  <ellipse cx="903" cy="363.3" rx="10.3" ry="12.3" fill="#dcdcdc" transform="rotate(-8 903 363.3)"/>
  <ellipse cx="901.4" cy="363.2" rx="10.3" ry="12.3" fill="url(#gDisk)" transform="rotate(-8 901.4 363.2)"/>
  <circle cx="904.3" cy="375" r="0.5" fill="#49c43c"/>
</g>
<!-- 6 structure diagnoser -->
<g>
  <use href="#boxdev" x="1026.3" y="341.5"/>
  <ellipse cx="1035.9" cy="363.3" rx="10.2" ry="12.2" fill="#2e2e2e" transform="rotate(-8 1035.9 363.3)"/>
  <ellipse cx="1034.3" cy="363.3" rx="10.3" ry="12.3" fill="#dcdcdc" transform="rotate(-8 1034.3 363.3)"/>
  <ellipse cx="1032.7" cy="363.2" rx="10.3" ry="12.3" fill="url(#gDisk)" transform="rotate(-8 1032.7 363.2)"/>
  <circle cx="1035.6" cy="375" r="0.5" fill="#49c43c"/>
</g>
<!-- 7 BD base station -->
<g>
  <path d="M908 476 L921.5 470 L921.5 444 L916 447 Z" fill="#000" opacity=".28" filter="url(#sh)"/>
  <path d="M893.1 438.3 L903.8 434.1 L918.8 437.5 L906.9 442.2 Z" fill="#7b7b7b"/>
  <path d="M893.1 438.3 L906.9 442.2 L906.9 475.6 L893.1 471.4 Z" fill="#8c8c8c"/>
  <path d="M906.9 442.2 L918.8 437.5 L918.8 470.6 L906.9 475.6 Z" fill="#5d5d5d"/>
  <path d="M906.9 442.2 L906.9 475.6" stroke="#3c3c3c" stroke-width="0.9"/>
  <path d="M896.2 465.8 L903.8 468" stroke="#6c6c6c" stroke-width="1.2"/>
</g>
<!-- 8 gateway -->
<g>
  <path d="M1019 464 L1040.5 476 L1058 467.5 L1057 460 Z" fill="#000" opacity=".25" filter="url(#sh)"/>
  <path d="M1035.2 436.6 L1036.8 436.6 L1036.8 451.5 L1035.2 451.5 Z" fill="#151515" stroke="#151515" stroke-width="0.5" stroke-linejoin="round"/>
  <path d="M1046.1 437.7 L1047.9 437.7 L1047.9 455.8 L1046.1 455.8 Z" fill="#151515" stroke="#151515" stroke-width="0.5" stroke-linejoin="round"/>
  <path d="M1016.2 454.8 L1030.8 449.1 L1055 457.5 L1040 464.5 Z" fill="#c4c4c4"/>
  <path d="M1016.2 454.8 L1040 464.5 L1040 473.3 L1016.5 462.5 Z" fill="#1a1a1a"/>
  <path d="M1040 464.5 L1055 457.5 L1054.6 466 L1040 473.3 Z" fill="#8c8c8c"/>
  <path d="M1042 463.8 L1042 472.2 M1044 462.8 L1044 471.2 M1046 461.9 L1046 470.2 M1048 461 L1048 469.2 M1050 460 L1050 468.2 M1052 459.1 L1052 467.2" stroke="#b8b8b8" stroke-width="0.8"/>
  <path d="M1016.2 454.8 L1040 464.5 L1040 465.6 L1016.2 455.9 Z" fill="#9a9a9a"/>
  <path d="M1018 460.6 L1020.4 461.7" stroke="#6fc132" stroke-width="1"/>
  <path d="M1034 467 L1037.6 468.6" stroke="#888" stroke-width="0.8"/>
</g>
<!-- 9 radar water level -->
<g>
  <path d="M907 622 L919.5 615 L919.5 590 L915 592 Z" fill="#000" opacity=".25" filter="url(#sh)"/>
  <path d="M888.5 581.2 L899.2 578.9 L916.5 582.4 L905.4 584.7 Z" fill="#ebebeb"/>
  <path d="M905.4 584.7 L916.5 582.4 L916.5 613.9 L905.4 620.8 Z" fill="#cfcfcf"/>
  <path d="M907.3 587.8 L915 585.8 L915 613.9 L907.3 617 Z" fill="#222222"/>
  <path d="M889.5 581.3 L905.4 584.7 L905.4 620.8 L889.5 616.1 Q888.5 615.8 888.5 614.8 L888.5 582.2 Q888.5 581.1 889.5 581.3 Z" fill="#dddddd"/>
  <ellipse cx="896.9" cy="592" rx="2.3" ry="2.6" fill="#f6f6f6" stroke="#c8c8c8" stroke-width="0.5"/>
  <path d="M893.2 610.2 L900.6 612.3" stroke="#9a9a9a" stroke-width="0.9"/>
  <circle cx="898.5" cy="580.1" r="0.55" fill="#3fd05a"/>
</g>
<!-- 10 weather station -->
<g>
  <path d="M1037 612 L1043 606 L1046 594 L1043 588 Z" fill="#000" opacity=".22" filter="url(#sh)"/>
  <path d="M1027.3 586.4 Q1027.5 580.2 1031.3 580 Q1035 580.2 1035.6 586.6 Z" fill="#3a4a3e"/>
  <path d="M1029.6 582 L1032.6 580.8 L1033 583.4 Z" fill="#e8e8e8"/>
  <circle cx="1039.8" cy="585.6" r="1.3" fill="#e6e6e6"/>
  <path d="M1025.6 608.2 L1037 608.2 L1037 616.2 Q1031.3 617.6 1025.6 616.2 Z" fill="#dedede"/>
  <path d="M1025.6 610.3 L1037 610.3 M1025.6 612.3 L1037 612.3 M1025.6 614.3 L1037 614.3" stroke="#bdbdbd" stroke-width="0.7"/>
  <path d="M1026.4 616.3 Q1031.3 617.8 1036.6 616.3" stroke="#4b4b4b" stroke-width="0.8" fill="none"/>
  <path d="M1022.8 599.6 L1040.9 599.6 Q1039.8 605 1037 608.6 L1025.6 608.6 Q1023.6 605 1022.8 599.6 Z" fill="#e2e2e2"/>
  <rect x="1022.3" y="589" width="19.4" height="9.6" fill="#f1f1f1"/>
  <path d="M1023.2 590.5 L1030.6 590.5 L1030.6 597 L1023.2 597 Z M1032.6 590.5 L1040.6 590.5 L1040.6 597 L1032.6 597 Z" fill="#fafafa" stroke="#d2d2d2" stroke-width="0.6"/>
  <path d="M1025.4 596.2 L1026.6 594.8 L1027.2 596.4 M1035.2 596.2 L1036.4 594.8 L1037 596.4" stroke="#9a9a9a" stroke-width="0.6" fill="none"/>
  <ellipse cx="1032" cy="587.9" rx="10.8" ry="2.2" fill="#e3e3e3"/>
  <ellipse cx="1032" cy="598.9" rx="10.8" ry="1.9" fill="#e0e0e0"/>
  <path d="M1021.2 587.9 Q1032 591.4 1042.8 587.9" stroke="#cfcfcf" stroke-width="0.6" fill="none"/>
</g>
</g>

</svg>
<div class="logo"><b>WITBEE</b><span>万宾</span></div>
<div class="pill" style="left:608.5px;top:183.3px;width:140.8px;height:38.8px;line-height:38.8px">边墙形变</div>
<div class="pill" style="left:611.0px;top:244.6px;width:139.6px;height:34.0px;line-height:34.0px">墙体裂缝预警</div>
<div class="pill" style="left:611.0px;top:301.1px;width:139.6px;height:34.4px;line-height:36.4px">周边建筑形变</div>
<div class="pill" style="left:611.0px;top:357.5px;width:139.6px;height:34.2px;line-height:34.2px">地表形变</div>
<div class="pill" style="left:611.0px;top:413.4px;width:139.6px;height:33.8px;line-height:33.8px">隧道气体</div>
<div class="pill" style="left:611.0px;top:573.7px;width:140.8px;height:34.5px;line-height:34.5px">隧道积水</div>
<div class="pill" style="left:614.2px;top:628.2px;width:140.9px;height:34.5px;line-height:36.7px">气象环境</div>
<div class="dev" style="left:835.5px;top:190.3px"><div class="n">加速度监测仪</div><div class="m"><span>EN302-XYZ</span></div></div>
<div class="dev" style="left:965.0px;top:188.9px"><div class="n">智能气体监测仪</div><div class="m"><span>EN501-MGA</span></div></div>
<div class="dev" style="left:835.7px;top:287.2px"><div class="n">智能视觉形变仪</div><div class="m"><span>EN600-VD</span></div></div>
<div class="dev" style="left:965.3px;top:287.2px"><div class="n">倾角振动监测仪</div><div class="m"><span>EN301-AS</span></div></div>
<div class="dev" style="left:835.7px;top:388.7px"><div class="n">GNSS监测一体机</div><div class="m"><span>EN300-GNA</span></div></div>
<div class="dev" style="left:965.5px;top:388.7px"><div class="n">智能结构诊断器</div><div class="m"><span>EN300-G</span></div></div>
<div class="dev" style="left:835.7px;top:480.7px"><div class="n">北斗地基微基站</div><div class="m"><span>EN400-BD</span></div></div>
<div class="dev" style="left:965.5px;top:480.7px"><div class="n">边缘计算网关</div><div class="m"><span>EN402-RT</span></div></div>
<div class="dev" style="left:833.7px;top:628.6px"><div class="n">雷达水位监测仪</div><div class="m"><span>EN200-D</span></div></div>
<div class="dev" style="left:963.5px;top:628.6px"><div class="n">多功能气象站</div><div class="m"><span>EN700-MW</span></div></div>
</body></html>
